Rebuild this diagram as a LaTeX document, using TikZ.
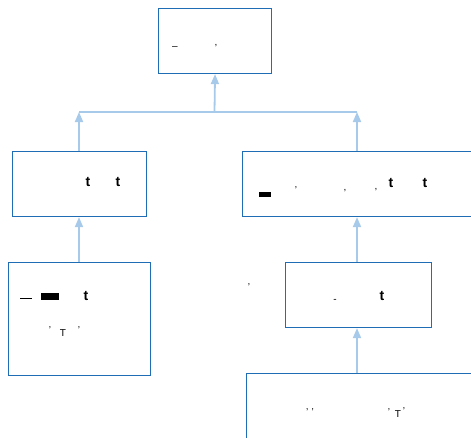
\documentclass[tikz,border=0pt]{standalone}
\usepackage{fontspec}
\setmainfont{Liberation Sans}
\usetikzlibrary{arrows.meta}
\definecolor{boxblue}{HTML}{1F6DB4}
\definecolor{linkblue}{HTML}{A8CAEA}
\tikzset{
  box/.style={draw=boxblue, line width=1.1pt, fill=white, anchor=north west, inner sep=0pt},
  link/.style={draw=linkblue, line width=1.8pt},
  linkarrow/.style={link, -{Triangle[length=10pt,width=8pt]}},
  frag/.style={font=\bfseries\fontsize{14}{14}\selectfont, inner sep=0pt},
  tiny/.style={font=\fontsize{10}{10}\selectfont, inner sep=0pt}
}
\begin{document}
\begin{tikzpicture}[x=1pt,y=-1pt]
\useasboundingbox (0,0) rectangle (471,437);
% boxes
\node[box, minimum width=113pt, minimum height=65pt] (top) at (158,8) {};
\node[box, minimum width=134pt, minimum height=65pt] (lm) at (12,151) {};
\node[box, minimum width=230pt, minimum height=65pt] (rm) at (242,151) {};
\node[box, minimum width=142pt, minimum height=113pt] (lb) at (8,262) {};
\node[box, minimum width=146pt, minimum height=65pt] (rb) at (285,262) {};
\node[box, minimum width=225pt, minimum height=70pt] (bot) at (246,373) {};
% junctions
\coordinate (jl) at (79,112);
\coordinate (jr) at (357,112);
\coordinate (jm) at (214.5,112);
% connectors
\draw[link] (jl) -- (jr);
\draw[linkarrow] (jm) -- (top.south);
\draw[linkarrow] (lm.north -| jl) -- (jl);
\draw[linkarrow] (rm.north -| jr) -- (jr);
\draw[linkarrow] (lb.north -| jl) -- (lm.south -| jl);
\draw[linkarrow] (rb.north -| jr) -- (rm.south -| jr);
\draw[linkarrow] (bot.north -| jr) -- (rb.south -| jr);
% text fragments
\node[tiny] (t1) at (175,48) {--};
\node[tiny] (t2) at (216,46) {,};
\node[frag] (t3) at (88,182) {t};
\node[frag] (t4) at (118,182) {t};
\node[frag] (t5) at (265,194) {\rule{12pt}{5pt}};
\node[tiny] (t6) at (296,190) {'};
\node[tiny] (t7) at (345,191) {,};
\node[tiny] (t8) at (376,190) {,};
\node[frag] (t9) at (391,183) {t};
\node[frag] (t10) at (425,183) {t};
\node[frag] (t11) at (26,298) {\rule{12pt}{1pt}};
\node[frag] (t12) at (50,296) {\rule{18pt}{7pt}};
\node[frag] (t13) at (86,296) {t};
\node[tiny] (t14) at (50,330) {'};
\node[tiny] (t15) at (63,333) {T};
\node[tiny] (t16) at (79,330) {'};
\node[tiny] (t17) at (249,287) {'};
\node[tiny] (t18) at (335,301) {-};
\node[frag] (t19) at (382,296) {t};
\node[tiny] (t20) at (310,412) {'\,\,'};
\node[tiny] (t21) at (389,412) {'};
\node[tiny] (t22) at (388,414) {\hspace{20pt}T};
\node[tiny] (t23) at (404,411) {'};
\end{tikzpicture}
\end{document}
